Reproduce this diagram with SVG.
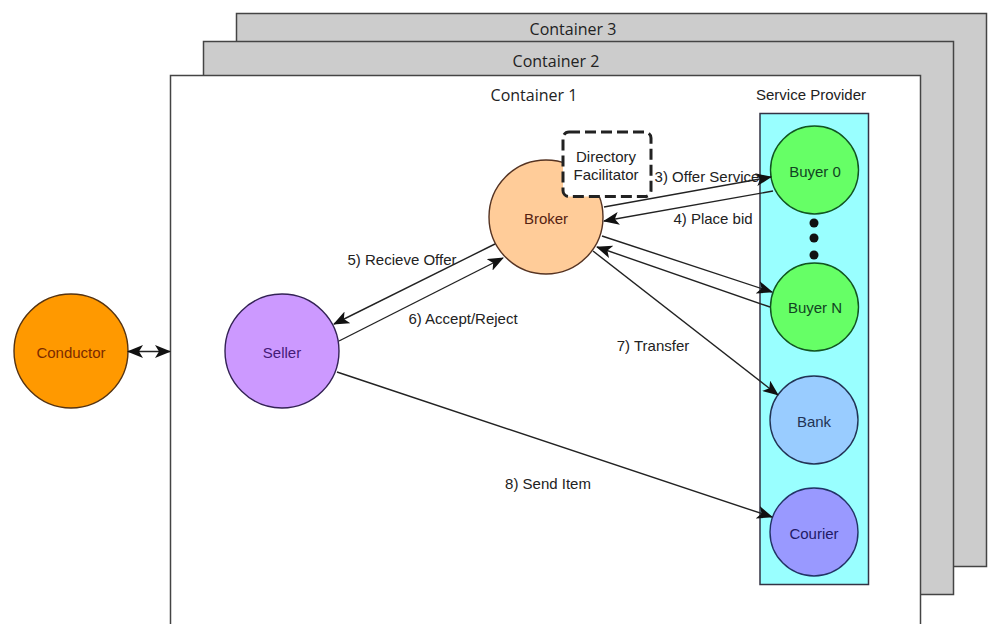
<svg xmlns="http://www.w3.org/2000/svg" width="988" height="624" viewBox="0 0 988 624">
<defs>
<marker id="arr" viewBox="0 0 16 13" refX="15" refY="6.500" markerWidth="16" markerHeight="13" markerUnits="userSpaceOnUse" orient="auto-start-reverse"><path d="M0 0L16 6.500L0 13L4 6.500Z" fill="#111"/></marker>
</defs>
<style>
text{font-family:"Liberation Sans",Arial,sans-serif;font-size:15px;fill:#222;text-anchor:middle}
.t{font-family:"Open Sans","Liberation Sans",sans-serif;font-size:16px}
.box{stroke:#444;stroke-width:1.5}
.n{stroke-width:1.4}
.e{fill:none;stroke:#222;stroke-width:1.4;marker-end:url(#arr)}
</style>
<rect width="988" height="624" fill="#fff"/>
<g id="container3"><rect class="box" x="236.500" y="13.500" width="750" height="553" fill="#cccccc"/><text class="t" x="573" y="35">Container 3</text></g>
<g id="container2"><rect class="box" x="203.500" y="41.500" width="750" height="553" fill="#cccccc"/><text class="t" x="556" y="66.500">Container 2</text></g>
<g id="container1"><rect class="box" x="170.500" y="75.500" width="750" height="570" fill="#fff"/><text class="t" x="534" y="100.500">Container 1</text></g>
<g id="service-provider"><rect x="760" y="113.500" width="108.500" height="471" fill="#99ffff" stroke="#334" stroke-width="1.500"/><text x="811" y="100">Service Provider</text></g>
<g id="broker"><circle class="n" cx="546" cy="217" r="57" fill="#ffcc99" stroke="#553322"/><text x="546" y="224" style="fill:#552211">Broker</text></g>
<g id="directory-facilitator"><rect x="563" y="132" width="88" height="64.500" rx="6" fill="#fff" stroke="#222" stroke-width="3" stroke-dasharray="11 5"/><text x="606" y="162">Directory</text><text x="606" y="180">Facilitator</text></g>
<g id="buyer-0"><circle class="n" cx="814.500" cy="170" r="44" fill="#66ff66" stroke="#115522"/><text x="815" y="177" style="fill:#114422">Buyer 0</text></g>
<g id="dots"><circle cx="814" cy="223" r="4.500" fill="#111"/><circle cx="814" cy="238" r="4.500" fill="#111"/><circle cx="814" cy="255" r="4.500" fill="#111"/></g>
<g id="buyer-n"><circle class="n" cx="814.500" cy="307" r="44" fill="#66ff66" stroke="#115522"/><text x="815" y="313" style="fill:#114422">Buyer N</text></g>
<g id="bank"><circle class="n" cx="814" cy="420" r="44" fill="#99ccff" stroke="#223355"/><text x="814" y="427" style="fill:#223355">Bank</text></g>
<g id="courier"><circle class="n" cx="814" cy="532" r="44" fill="#9999ff" stroke="#223366"/><text x="814" y="539" style="fill:#221a66">Courier</text></g>
<g id="conductor"><circle class="n" cx="71" cy="351" r="57" fill="#ff9900" stroke="#553311"/><text x="71" y="358" style="fill:#7a2a00">Conductor</text></g>
<g id="seller"><circle class="n" cx="282" cy="351" r="57" fill="#cc99ff" stroke="#332255"/><text x="282" y="358" style="fill:#441a77">Seller</text></g>
<g id="connectors">
<path class="e" d="M128 351.500H170" style="marker-start:url(#arr)"/>
<path class="e" d="M604 207L771 177"/>
<path class="e" d="M773 191L604 221"/>
<path class="e" d="M602 236L772 292"/>
<path class="e" d="M770 307L597 247"/>
<path class="e" d="M593 251L778 395"/>
<path class="e" d="M495 244L334 324"/>
<path class="e" d="M339 341L503 258"/>
<path class="e" d="M337 372L772 517"/>
</g>
<g id="labels">
<text x="707" y="182">3) Offer Service</text>
<text x="713" y="224">4) Place bid</text>
<text x="402" y="265">5) Recieve Offer</text>
<text x="463" y="324">6) Accept/Reject</text>
<text x="653" y="351">7) Transfer</text>
<text x="548" y="489">8) Send Item</text>
</g>
</svg>
